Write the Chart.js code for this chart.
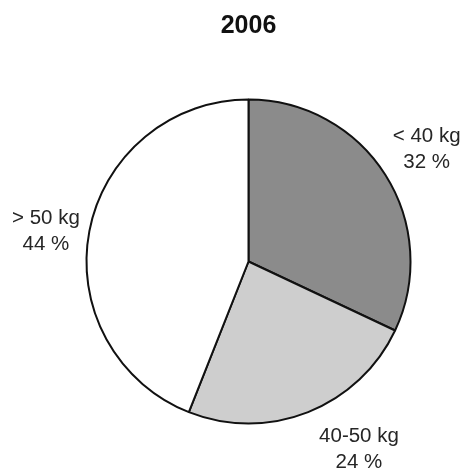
<!DOCTYPE html>
<html>
<head>
<meta charset="utf-8">
<script src="https://cdn.jsdelivr.net/npm/chart.js@4/dist/chart.umd.min.js"></script>
<style>
  html, body { margin: 0; padding: 0; background: #fff; }
  #wrap { width: 464px; height: 470px; }
</style>
</head>
<body>
<div id="wrap"><canvas id="pieChart" width="464" height="470"></canvas></div>
<script>
// data
const chartTitle = '2006';
const categories = ['< 40 kg', '40-50 kg', '> 50 kg'];
const shares = [32, 24, 44];
const sliceColors = ['#8b8b8b', '#cecece', '#ffffff'];

// label placement (distance from centre, angle nudge in degrees)
const labelDist = [211, 217, 205];
const labelNudge = [0, -9, -2];

const outsideLabels = {
  id: 'outsideLabels',
  afterDraw(chart) {
    const ctx = chart.ctx;
    const arcs = chart.getDatasetMeta(0).data;
    ctx.save();
    ctx.fillStyle = '#262626';
    ctx.font = '20.5px "Liberation Sans", Arial, sans-serif';
    ctx.textAlign = 'center';
    ctx.textBaseline = 'alphabetic';
    arcs.forEach(function(arc, i) {
      const p = arc.getProps(['x', 'y', 'startAngle', 'endAngle']);
      const mid = (p.startAngle + p.endAngle) / 2 + labelNudge[i] * Math.PI / 180;
      const cx = p.x + Math.cos(mid) * labelDist[i];
      const cy = p.y + Math.sin(mid) * labelDist[i];
      ctx.fillText(categories[i], cx, cy - 6);
      ctx.fillText(shares[i] + ' %', cx, cy + 20);
    });
    ctx.restore();
  }
};

const ctx = document.getElementById('pieChart').getContext('2d');
new Chart(ctx, {
  type: 'pie',
  data: {
    labels: categories,
    datasets: [{
      data: shares,
      backgroundColor: sliceColors,
      borderColor: '#111',
      borderWidth: 2
    }]
  },
  options: {
    responsive: false,
    animation: false,
    layout: {
      padding: { left: 85.5, right: 52.5, top: 0, bottom: 45.5 }
    },
    plugins: {
      legend: { display: false },
      tooltip: { enabled: false },
      title: {
        display: true,
        text: chartTitle,
        color: '#111',
        font: { family: '"Liberation Sans", Arial, sans-serif', size: 25, weight: 'bold' },
        padding: { top: 11, bottom: 57.5 }
      }
    }
  },
  plugins: [outsideLabels]
});
</script>
</body>
</html>
